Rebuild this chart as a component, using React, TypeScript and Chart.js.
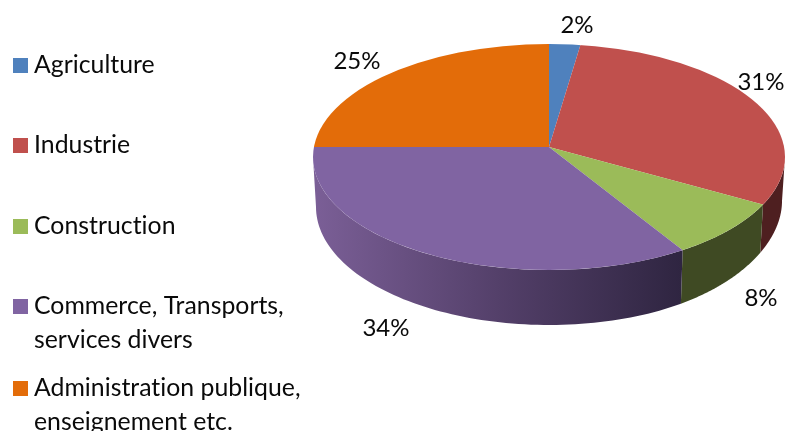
import React, { useEffect, useRef } from "react";
import { Chart, registerables } from "chart.js";

Chart.register(...registerables);

const categories = [
  ["Agriculture"],
  ["Industrie"],
  ["Construction"],
  ["Commerce, Transports,", "services divers"],
  ["Administration publique,", "enseignement etc."],
];
const shares = [2, 31, 8, 34, 25];
const sliceColors = ["#4f81bd", "#c0504d", "#9bbb59", "#8064a2", "#e36c09"];
const wallColors = ["#2f4a70", "#4e1f20", "#3f4a23", "#54406a", "#8a4205"];

const LEGEND_FONT = "24.8px Lato, sans-serif";
const LABEL_FONT = "24px Lato, sans-serif";
const INK = "#0a0a0a";

// the slices meet at an apex above the middle of the rim ellipse (perspective)
const CX = 549;
const CY = 147;
const ARC_RADIUS = 275;
const K_BACK = 0.41;
const K_FRONT = 0.49;
const RIM = { cy: 157, rx: 236, ry: 113 };
const FLOOR = { cy: 207, rx: 233, ry: 118 };

const legendY = [[65], [145], [226], [306, 340], [388, 422]];
const labelAnchors = [
  [577, 25],
  [761, 82],
  [761, 298],
  [386, 328],
  [357, 61],
];

// where a front-facing slice edge at angle a meets the rim ellipse
function rimParam(a: number) {
  if (a <= 0) return 0;
  if (a >= Math.PI) return Math.PI;
  const ay = CY - RIM.cy;
  const c = Math.cos(a);
  const d = K_FRONT * Math.sin(a);
  const A = (c * c) / (RIM.rx * RIM.rx) + (d * d) / (RIM.ry * RIM.ry);
  const B = (2 * ay * d) / (RIM.ry * RIM.ry);
  const C = (ay * ay) / (RIM.ry * RIM.ry) - 1;
  const s = (-B + Math.sqrt(B * B - 4 * A * C)) / (2 * A);
  const t = Math.atan2((ay + s * d) / RIM.ry, (s * c) / RIM.rx);
  return Math.max(0, Math.min(Math.PI, t));
}

const pie3d = {
  id: "pie3d",
  beforeDatasetDraw(chart: any) {
    const ctx = chart.ctx;
    const arcs = chart.getDatasetMeta(0).data;

    // side walls of the slices that face the viewer
    arcs.forEach((arc: any, i: number) => {
      const a0 = Math.max(arc.startAngle, 0);
      const a1 = Math.min(arc.endAngle, Math.PI);
      if (a1 <= a0) return;
      const t0 = rimParam(a0);
      const t1 = rimParam(a1);
      let fill: any = wallColors[i];
      if (i === 3) {
        const g = ctx.createLinearGradient(313, 0, 681, 0);
        g.addColorStop(0, "#7b5f97");
        g.addColorStop(0.5, "#54406a");
        g.addColorStop(1, "#2f2541");
        fill = g;
      }
      ctx.beginPath();
      const steps = 80;
      for (let s = 0; s <= steps; s++) {
        const t = t0 + ((t1 - t0) * s) / steps;
        const x = CX + RIM.rx * Math.cos(t);
        const y = RIM.cy + RIM.ry * Math.sin(t);
        if (s === 0) ctx.moveTo(x, y);
        else ctx.lineTo(x, y);
      }
      for (let s = steps; s >= 0; s--) {
        const t = t0 + ((t1 - t0) * s) / steps;
        const tuck = 6 * Math.pow(Math.max(Math.cos(t), 0), 4);
        ctx.lineTo(CX + FLOOR.rx * Math.cos(t), FLOOR.cy + FLOOR.ry * Math.sin(t) - tuck);
      }
      ctx.closePath();
      ctx.fillStyle = fill;
      ctx.fill();
    });

    // top face: the library's own arcs, squashed and cut to the rim ellipse
    const halves = [
      { k: K_FRONT, y: CY, h: 200 },
      { k: K_BACK, y: CY - 200, h: 200 },
    ];
    halves.forEach(({ k, y, h }) => {
      ctx.save();
      ctx.beginPath();
      ctx.ellipse(CX, RIM.cy, RIM.rx, RIM.ry, 0, 0, Math.PI * 2);
      ctx.clip();
      ctx.beginPath();
      ctx.rect(0, y, 786, h);
      ctx.clip();
      ctx.translate(CX, CY);
      ctx.scale(1, k);
      ctx.translate(-CX, -CY);
      arcs.forEach((arc: any) => arc.draw(ctx));
      ctx.restore();
    });
    return false;
  },
  afterDraw(chart: any) {
    const ctx = chart.ctx;
    ctx.save();
    ctx.textBaseline = "middle";
    // a tiny letter spacing turns off Lato's "ti" ligature
    ctx.letterSpacing = "0.02px";

    ctx.font = LEGEND_FONT;
    categories.forEach((lines, i) => {
      const ys = legendY[i];
      ctx.fillStyle = sliceColors[i];
      ctx.fillRect(13, ys[0] - 7, 15, 15);
      ctx.fillStyle = INK;
      ctx.textAlign = "left";
      lines.forEach((t, j) => ctx.fillText(t, 34, ys[j] + 0.5));
    });

    ctx.font = LABEL_FONT;
    ctx.fillStyle = INK;
    ctx.textAlign = "center";
    shares.forEach((v, i) => {
      ctx.fillText(`${v}%`, labelAnchors[i][0], labelAnchors[i][1]);
    });
    ctx.restore();
  },
};

export default function App() {
  const ref = useRef<HTMLCanvasElement>(null);
  useEffect(() => {
    const chart = new Chart(ref.current!, {
      type: "pie",
      data: {
        labels: categories.map((c) => c.join(" ")),
        datasets: [
          { data: shares, backgroundColor: sliceColors, borderWidth: 0 },
        ],
      },
      options: {
        responsive: false,
        animation: false,
        radius: ARC_RADIUS,
        layout: {
          padding: { left: 313, right: 1, top: 0, bottom: 431 - 2 * CY },
        },
        plugins: { legend: { display: false }, tooltip: { enabled: false } },
      } as any,
      plugins: [pie3d],
    });
    return () => chart.destroy();
  }, []);
  return (
    <canvas
      ref={ref}
      width={786}
      height={431}
      style={{ position: "absolute", left: 0, top: 0, width: 786, height: 431 }}
    />
  );
}
